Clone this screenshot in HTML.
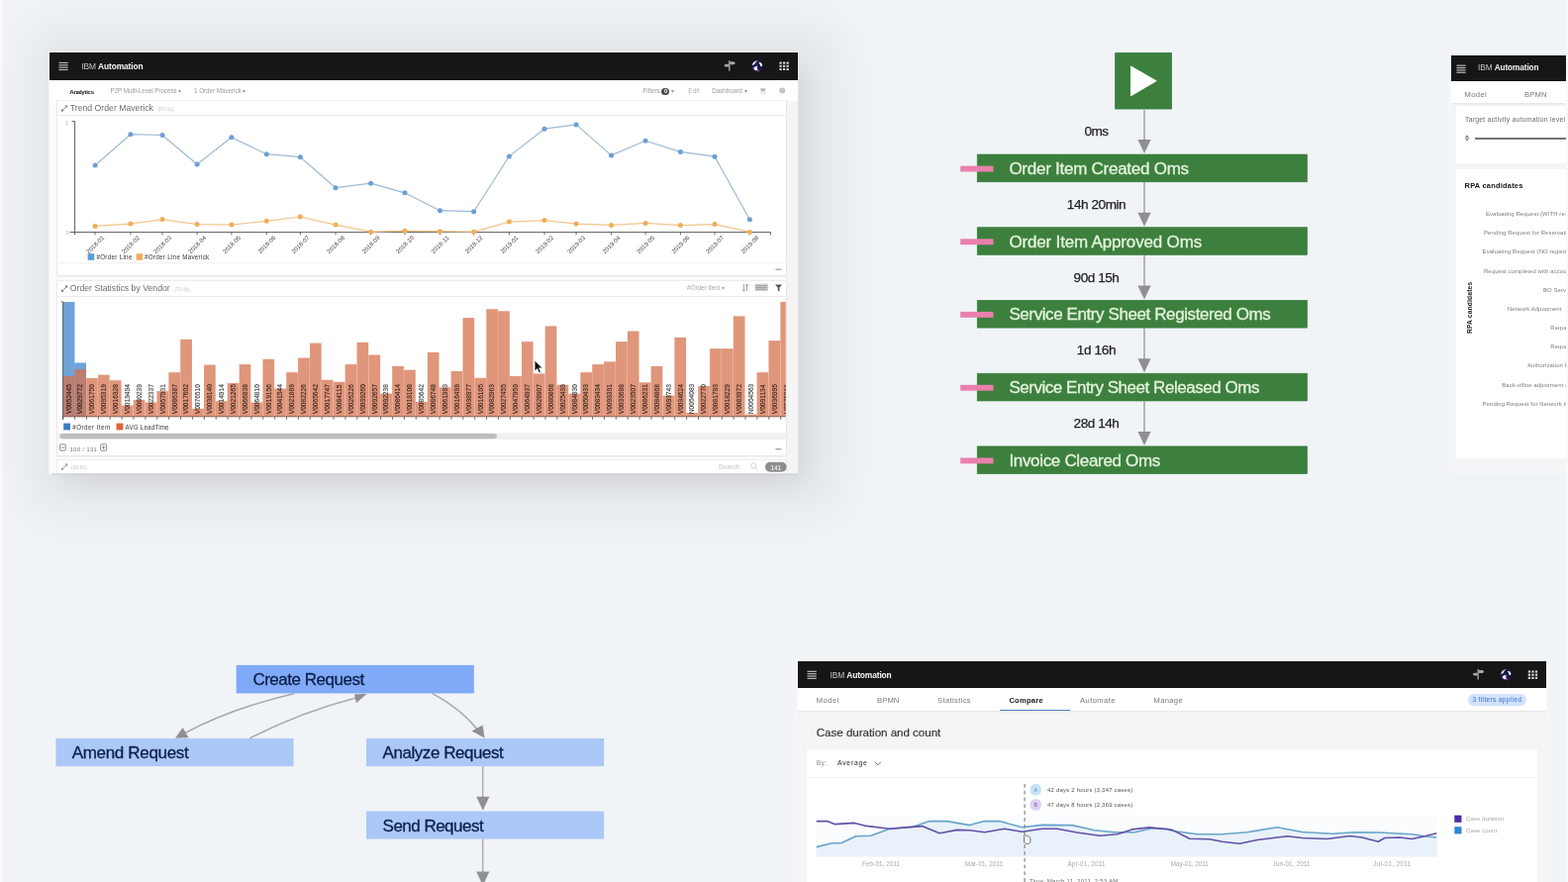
<!DOCTYPE html>
<html lang="en"><head><meta charset="utf-8"><title>IBM Automation</title>
<style>
html,body{margin:0;padding:0}
body{width:1584px;height:891px;overflow:hidden;position:relative;background:#f0f4f7;font-family:"Liberation Sans",sans-serif;color:#161616}
.abs{position:absolute}
.t{position:absolute;white-space:nowrap;line-height:1;}
.panel{position:absolute;background:#f4f4f4;overflow:hidden}
.hdr{position:absolute;left:0;top:0;right:0;background:#161616}
.card{position:absolute;background:#fff}
svg{position:absolute;left:0;top:0;overflow:visible}
.soft{filter:blur(0.45px)}
</style></head>
<body>
<div class="abs" style="left:0;top:0;width:1584px;height:891px;background:#f0f4f7"></div>
<div class="panel" style="left:50px;top:53px;width:756px;height:424.5px;background:#fbfbfb;overflow:visible;box-shadow:0 0 0 1.2px rgba(255,255,255,0.5),1.2px 1.5px 1.5px -0.5px rgba(0,0,0,0.26),10px 14px 28px -8px rgba(20,14,20,0.09),10px 6px 50px 30px rgba(24,14,22,0.062)"><div class="abs soft" style="left:0;top:0;width:756px;height:424.5px;overflow:hidden"><div class="hdr" style="height:27.5px"><svg width="756" height="27.5" viewBox="0 0 756 27.5"><rect x="9.5" y="9.85" width="9.2" height="1.2" fill="#b8b8b8"/><rect x="9.5" y="12.20" width="9.2" height="1.2" fill="#b8b8b8"/><rect x="9.5" y="14.55" width="9.2" height="1.2" fill="#b8b8b8"/><rect x="9.5" y="16.90" width="9.2" height="1.2" fill="#b8b8b8"/><g fill="#a8a8a8" stroke="none"><rect x="686.15" y="8.15" width="1.3" height="10.5"/><path d="M687.20 9.15 h4.2 l1.5 1.5 l-1.5 1.5 h-4.2 z"/><path d="M686.40 11.75 h-3.6 l-1.5 1.4 l1.5 1.4 h3.6 z"/></g><circle cx="714.9" cy="13.6" r="5.9" fill="#1d1a4a"/><path d="M709.7 13.3 c0.5 -3.4 3.2 -5.2 6 -4.6 c-2 0.6 -3 1.8 -3.4 3.4 c-0.8 0.2 -1.8 0.6 -2.6 1.2 z" fill="#f1eafc"/><path d="M716.3 10.2 c1.6 -0.6 3.2 0.2 3.6 2.2 c0.2 1.4 -0.6 2 -1.6 1.6 c-0.2 -1.6 -1 -2.8 -2 -3.8 z" fill="#ffffff"/><path d="M711.1 15.9 c1.2 -1.6 2.6 -2.4 4.2 -2.2 c-0.6 1.4 -0.4 2.8 0.6 4 c-1.6 1 -3.4 0.8 -4.8 -1.8 z" fill="#efe6ff"/><path d="M714.5 17.4 l2.6 1.8" stroke="#c94f9a" stroke-width="0.9"/><rect x="737.40" y="9.55" width="2.3" height="2.1" fill="#d6d6d6"/><rect x="740.95" y="9.55" width="2.3" height="2.1" fill="#d6d6d6"/><rect x="744.50" y="9.55" width="2.3" height="2.1" fill="#d6d6d6"/><rect x="737.40" y="12.75" width="2.3" height="2.1" fill="#d6d6d6"/><rect x="740.95" y="12.75" width="2.3" height="2.1" fill="#d6d6d6"/><rect x="744.50" y="12.75" width="2.3" height="2.1" fill="#d6d6d6"/><rect x="737.40" y="15.95" width="2.3" height="2.1" fill="#d6d6d6"/><rect x="740.95" y="15.95" width="2.3" height="2.1" fill="#d6d6d6"/><rect x="744.50" y="15.95" width="2.3" height="2.1" fill="#d6d6d6"/></svg><div class="t" style="left:32.4px;top:14.2px;font-size:8.40px;color:#f4f4f4;font-weight:normal;height:10.08px;line-height:10.08px;margin-top:-5.04px;letter-spacing:-0.125px;"><span style="font-weight:normal;color:#c6c6c6">IBM</span> <b>Automation</b></div>
</div><div class="abs" style="left:0;top:27.5px;width:756px;height:21.5px;background:#fff"></div><div class="t" style="left:20.3px;top:39.6px;font-size:6.20px;color:#161616;font-weight:bold;height:7.44px;line-height:7.44px;margin-top:-3.72px;letter-spacing:-0.335px;">Analytics</div>
<div class="t" style="left:61.5px;top:38.9px;font-size:6.30px;color:#9a9a9a;font-weight:normal;height:7.56px;line-height:7.56px;margin-top:-3.78px;letter-spacing:-0.061px;">P2P Multi-Level Process &#9662;</div>
<div class="t" style="left:146.0px;top:38.9px;font-size:6.30px;color:#9a9a9a;font-weight:normal;height:7.56px;line-height:7.56px;margin-top:-3.78px;letter-spacing:-0.041px;">1 Order Maverick &#9662;</div>
<div class="t" style="left:599.5px;top:38.8px;font-size:6.30px;color:#9a9a9a;font-weight:normal;height:7.56px;line-height:7.56px;margin-top:-3.78px;">Filters <span style="display:inline-block;background:#525252;color:#fff;border-radius:4px;width:8px;height:7.6px;line-height:7.6px;text-align:center;font-size:5.5px;font-weight:bold;vertical-align:0.5px">0</span> &#9662;</div>
<div class="t" style="left:645.3px;top:38.8px;font-size:6.30px;color:#b0b0b0;font-weight:normal;height:7.56px;line-height:7.56px;margin-top:-3.78px;letter-spacing:0.185px;">Edit</div>
<div class="t" style="left:669.2px;top:38.8px;font-size:6.30px;color:#9a9a9a;font-weight:normal;height:7.56px;line-height:7.56px;margin-top:-3.78px;letter-spacing:-0.015px;">Dashboard &#9662;</div>
<svg width="756" height="424.5" viewBox="0 0 756 424.5"><g fill="#b8b8b8"><path d="M718.0 36.3 h5.5 l-0.9 3.2 h-3.8 z"/><circle cx="719.6" cy="41.3" r="0.7"/><circle cx="722.4" cy="41.3" r="0.7"/><circle cx="740.2" cy="38.5" r="3" fill="#c4c4c4"/></g></svg><div class="abs" style="left:744px;top:49px;width:12.5px;height:400px;background:#f5f5f5"></div><div class="card" style="left:8.2px;top:48.8px;width:735.6px;height:175.8px;box-shadow:0 0 0 0.6px #e3e3e3,0 1px 2px rgba(0,0,0,0.10)"></div><div class="abs" style="left:8.2px;top:63.4px;width:735.6px;height:1px;background:#ececec"></div><svg width="756" height="424.5" viewBox="0 0 756 424.5"><g stroke="#6f6f6f" stroke-width="0.9" fill="#6f6f6f"><path d="M12.6 59.0 l5 -5"/><path d="M18.2 53.4 h-2.6 l2.6 2.6 z" stroke="none"/><path d="M12.0 59.6 h2.6 l-2.6 -2.6 z" stroke="none"/></g></svg><div class="t" style="left:20.8px;top:56.2px;font-size:8.70px;color:#6f6f6f;font-weight:normal;height:10.44px;line-height:10.44px;margin-top:-5.22px;">Trend Order Maverick <span style="font-size:4.6px;color:#c6c6c6;margin-left:2px">(PO 1c)</span></div>
<svg width="756" height="424.5" viewBox="50 53 756 424.5" font-family="Liberation Sans, sans-serif"><path d="M72.5 122.6 H75.6 V237.2 M70.5 234.6 H778.6 V237.4" fill="none" stroke="#4d4d4d" stroke-width="0.9"/><text x="69" y="125.5" font-size="4.5" fill="#a8a8a8" text-anchor="end">1</text><text x="69.5" y="237" font-size="4.5" fill="#a8a8a8" text-anchor="end">0</text><path d="M96.1 234.6 v2.8" stroke="#4d4d4d" stroke-width="0.8"/><text transform="translate(97.7 248.6) rotate(-45)" font-size="6.1" fill="#3d3d3d" text-anchor="middle" textLength="22.6" lengthAdjust="spacing">2018-01</text><path d="M131.9 234.6 v2.8" stroke="#4d4d4d" stroke-width="0.8"/><text transform="translate(133.5 248.6) rotate(-45)" font-size="6.1" fill="#3d3d3d" text-anchor="middle" textLength="22.6" lengthAdjust="spacing">2018-02</text><path d="M164.0 234.6 v2.8" stroke="#4d4d4d" stroke-width="0.8"/><text transform="translate(165.6 248.6) rotate(-45)" font-size="6.1" fill="#3d3d3d" text-anchor="middle" textLength="22.6" lengthAdjust="spacing">2018-03</text><path d="M199.1 234.6 v2.8" stroke="#4d4d4d" stroke-width="0.8"/><text transform="translate(200.7 248.6) rotate(-45)" font-size="6.1" fill="#3d3d3d" text-anchor="middle" textLength="22.6" lengthAdjust="spacing">2018-04</text><path d="M233.9 234.6 v2.8" stroke="#4d4d4d" stroke-width="0.8"/><text transform="translate(235.5 248.6) rotate(-45)" font-size="6.1" fill="#3d3d3d" text-anchor="middle" textLength="22.6" lengthAdjust="spacing">2018-05</text><path d="M269.3 234.6 v2.8" stroke="#4d4d4d" stroke-width="0.8"/><text transform="translate(270.9 248.6) rotate(-45)" font-size="6.1" fill="#3d3d3d" text-anchor="middle" textLength="22.6" lengthAdjust="spacing">2018-06</text><path d="M303.4 234.6 v2.8" stroke="#4d4d4d" stroke-width="0.8"/><text transform="translate(305.0 248.6) rotate(-45)" font-size="6.1" fill="#3d3d3d" text-anchor="middle" textLength="22.6" lengthAdjust="spacing">2018-07</text><path d="M339.0 234.6 v2.8" stroke="#4d4d4d" stroke-width="0.8"/><text transform="translate(340.6 248.6) rotate(-45)" font-size="6.1" fill="#3d3d3d" text-anchor="middle" textLength="22.6" lengthAdjust="spacing">2018-08</text><path d="M374.6 234.6 v2.8" stroke="#4d4d4d" stroke-width="0.8"/><text transform="translate(376.2 248.6) rotate(-45)" font-size="6.1" fill="#3d3d3d" text-anchor="middle" textLength="22.6" lengthAdjust="spacing">2018-09</text><path d="M408.9 234.6 v2.8" stroke="#4d4d4d" stroke-width="0.8"/><text transform="translate(410.5 248.6) rotate(-45)" font-size="6.1" fill="#3d3d3d" text-anchor="middle" textLength="22.6" lengthAdjust="spacing">2018-10</text><path d="M444.5 234.6 v2.8" stroke="#4d4d4d" stroke-width="0.8"/><text transform="translate(446.1 248.6) rotate(-45)" font-size="6.1" fill="#3d3d3d" text-anchor="middle" textLength="22.6" lengthAdjust="spacing">2018-11</text><path d="M478.6 234.6 v2.8" stroke="#4d4d4d" stroke-width="0.8"/><text transform="translate(480.2 248.6) rotate(-45)" font-size="6.1" fill="#3d3d3d" text-anchor="middle" textLength="22.6" lengthAdjust="spacing">2018-12</text><path d="M514.4 234.6 v2.8" stroke="#4d4d4d" stroke-width="0.8"/><text transform="translate(516.0 248.6) rotate(-45)" font-size="6.1" fill="#3d3d3d" text-anchor="middle" textLength="22.6" lengthAdjust="spacing">2019-01</text><path d="M550.0 234.6 v2.8" stroke="#4d4d4d" stroke-width="0.8"/><text transform="translate(551.6 248.6) rotate(-45)" font-size="6.1" fill="#3d3d3d" text-anchor="middle" textLength="22.6" lengthAdjust="spacing">2019-02</text><path d="M582.1 234.6 v2.8" stroke="#4d4d4d" stroke-width="0.8"/><text transform="translate(583.7 248.6) rotate(-45)" font-size="6.1" fill="#3d3d3d" text-anchor="middle" textLength="22.6" lengthAdjust="spacing">2019-03</text><path d="M617.5 234.6 v2.8" stroke="#4d4d4d" stroke-width="0.8"/><text transform="translate(619.1 248.6) rotate(-45)" font-size="6.1" fill="#3d3d3d" text-anchor="middle" textLength="22.6" lengthAdjust="spacing">2019-04</text><path d="M652.1 234.6 v2.8" stroke="#4d4d4d" stroke-width="0.8"/><text transform="translate(653.7 248.6) rotate(-45)" font-size="6.1" fill="#3d3d3d" text-anchor="middle" textLength="22.6" lengthAdjust="spacing">2019-05</text><path d="M687.4 234.6 v2.8" stroke="#4d4d4d" stroke-width="0.8"/><text transform="translate(689.0 248.6) rotate(-45)" font-size="6.1" fill="#3d3d3d" text-anchor="middle" textLength="22.6" lengthAdjust="spacing">2019-06</text><path d="M722.0 234.6 v2.8" stroke="#4d4d4d" stroke-width="0.8"/><text transform="translate(723.6 248.6) rotate(-45)" font-size="6.1" fill="#3d3d3d" text-anchor="middle" textLength="22.6" lengthAdjust="spacing">2019-07</text><path d="M757.4 234.6 v2.8" stroke="#4d4d4d" stroke-width="0.8"/><text transform="translate(759.0 248.6) rotate(-45)" font-size="6.1" fill="#3d3d3d" text-anchor="middle" textLength="22.6" lengthAdjust="spacing">2019-08</text><polyline points="96.1,228.4 131.9,226.1 164.0,221.6 199.1,226.6 233.9,227.1 269.3,223.3 303.4,219.0 339.0,227.1 374.6,234.2 408.9,233.2 444.5,233.7 478.6,234.2 514.4,224.1 550.0,222.6 582.1,226.1 617.5,227.4 652.1,225.4 687.4,227.6 722.0,226.6 757.4,234.4" fill="none" stroke="#f2c58e" stroke-width="1.2" stroke-linejoin="round"/><circle cx="96.1" cy="228.4" r="2.5" fill="#f0ad58"/><circle cx="131.9" cy="226.1" r="2.5" fill="#f0ad58"/><circle cx="164.0" cy="221.6" r="2.5" fill="#f0ad58"/><circle cx="199.1" cy="226.6" r="2.5" fill="#f0ad58"/><circle cx="233.9" cy="227.1" r="2.5" fill="#f0ad58"/><circle cx="269.3" cy="223.3" r="2.5" fill="#f0ad58"/><circle cx="303.4" cy="219.0" r="2.5" fill="#f0ad58"/><circle cx="339.0" cy="227.1" r="2.5" fill="#f0ad58"/><circle cx="374.6" cy="234.2" r="2.5" fill="#f0ad58"/><circle cx="408.9" cy="233.2" r="2.5" fill="#f0ad58"/><circle cx="444.5" cy="233.7" r="2.5" fill="#f0ad58"/><circle cx="478.6" cy="234.2" r="2.5" fill="#f0ad58"/><circle cx="514.4" cy="224.1" r="2.5" fill="#f0ad58"/><circle cx="550.0" cy="222.6" r="2.5" fill="#f0ad58"/><circle cx="582.1" cy="226.1" r="2.5" fill="#f0ad58"/><circle cx="617.5" cy="227.4" r="2.5" fill="#f0ad58"/><circle cx="652.1" cy="225.4" r="2.5" fill="#f0ad58"/><circle cx="687.4" cy="227.6" r="2.5" fill="#f0ad58"/><circle cx="722.0" cy="226.6" r="2.5" fill="#f0ad58"/><circle cx="757.4" cy="234.4" r="2.5" fill="#f0ad58"/><polyline points="96.1,167.0 131.9,135.7 164.0,136.5 199.1,166.0 233.9,138.7 269.3,155.7 303.4,158.7 339.0,189.7 374.6,185.2 408.9,194.8 444.5,212.7 478.6,213.7 514.4,157.9 550.0,130.2 582.1,125.9 617.5,156.9 652.1,142.3 687.4,153.4 722.0,158.2 757.4,221.8" fill="none" stroke="#9dbad3" stroke-width="1.2" stroke-linejoin="round"/><circle cx="96.1" cy="167.0" r="2.5" fill="#6d9fd3"/><circle cx="131.9" cy="135.7" r="2.5" fill="#6d9fd3"/><circle cx="164.0" cy="136.5" r="2.5" fill="#6d9fd3"/><circle cx="199.1" cy="166.0" r="2.5" fill="#6d9fd3"/><circle cx="233.9" cy="138.7" r="2.5" fill="#6d9fd3"/><circle cx="269.3" cy="155.7" r="2.5" fill="#6d9fd3"/><circle cx="303.4" cy="158.7" r="2.5" fill="#6d9fd3"/><circle cx="339.0" cy="189.7" r="2.5" fill="#6d9fd3"/><circle cx="374.6" cy="185.2" r="2.5" fill="#6d9fd3"/><circle cx="408.9" cy="194.8" r="2.5" fill="#6d9fd3"/><circle cx="444.5" cy="212.7" r="2.5" fill="#6d9fd3"/><circle cx="478.6" cy="213.7" r="2.5" fill="#6d9fd3"/><circle cx="514.4" cy="157.9" r="2.5" fill="#6d9fd3"/><circle cx="550.0" cy="130.2" r="2.5" fill="#6d9fd3"/><circle cx="582.1" cy="125.9" r="2.5" fill="#6d9fd3"/><circle cx="617.5" cy="156.9" r="2.5" fill="#6d9fd3"/><circle cx="652.1" cy="142.3" r="2.5" fill="#6d9fd3"/><circle cx="687.4" cy="153.4" r="2.5" fill="#6d9fd3"/><circle cx="722.0" cy="158.2" r="2.5" fill="#6d9fd3"/><circle cx="757.4" cy="221.8" r="2.5" fill="#6d9fd3"/><rect x="88.6" y="256.2" width="6.6" height="6.6" fill="#5b9bd5"/><text x="97.4" y="262" font-size="6.3" fill="#393939" textLength="36" lengthAdjust="spacing">#Order Line</text><rect x="137.6" y="256.2" width="6.6" height="6.6" fill="#f0ad58"/><text x="146" y="262" font-size="6.3" fill="#393939" textLength="65.2" lengthAdjust="spacing">#Order Line Maverick</text><rect x="58.4" y="265.4" width="735.2" height="0.8" fill="#ebebeb"/><rect x="783.5" y="271.6" width="6" height="1.1" fill="#8d8d8d"/></svg><div class="card" style="left:8.2px;top:231.0px;width:735.6px;height:175.5px;box-shadow:0 0 0 0.6px #e3e3e3,0 1px 2px rgba(0,0,0,0.10)"></div><div class="abs" style="left:8.2px;top:245.6px;width:735.6px;height:1px;background:#ececec"></div><svg width="756" height="424.5" viewBox="0 0 756 424.5"><g stroke="#6f6f6f" stroke-width="0.9" fill="#6f6f6f"><path d="M12.6 241.2 l5 -5"/><path d="M18.2 235.6 h-2.6 l2.6 2.6 z" stroke="none"/><path d="M12.0 241.8 h2.6 l-2.6 -2.6 z" stroke="none"/></g></svg><div class="t" style="left:20.8px;top:238.4px;font-size:8.70px;color:#6f6f6f;font-weight:normal;height:10.44px;line-height:10.44px;margin-top:-5.22px;">Order Statistics by Vendor <span style="font-size:4.6px;color:#c6c6c6;margin-left:2px">(TO 6c)</span></div>
<svg width="756" height="424.5" viewBox="50 53 756 424.5" font-family="Liberation Sans, sans-serif"><clipPath id="bc"><rect x="58" y="300" width="735.8" height="130"/></clipPath><g clip-path="url(#bc)"><rect x="63.30" y="305" width="12.19" height="115.60" fill="#6fa4d9"/><rect x="75.19" y="366.5" width="11.88" height="54.10" fill="#6fa4d9"/><rect x="63.40" y="379.95" width="11.69" height="40.65" fill="#d5714d" fill-opacity="0.74"/><rect x="75.28" y="373.13" width="11.69" height="47.47" fill="#d5714d" fill-opacity="0.74"/><rect x="87.17" y="381.97" width="11.69" height="38.63" fill="#d5714d" fill-opacity="0.74"/><rect x="99.05" y="378.69" width="11.69" height="41.91" fill="#d5714d" fill-opacity="0.74"/><rect x="110.94" y="384.24" width="11.69" height="36.36" fill="#d5714d" fill-opacity="0.74"/><rect x="122.82" y="409.49" width="11.69" height="11.11" fill="#d5714d" fill-opacity="0.74"/><rect x="134.71" y="403.94" width="11.69" height="16.66" fill="#d5714d" fill-opacity="0.74"/><rect x="146.59" y="406.46" width="11.69" height="14.14" fill="#d5714d" fill-opacity="0.74"/><rect x="158.48" y="395.10" width="11.69" height="25.50" fill="#d5714d" fill-opacity="0.74"/><rect x="170.36" y="376.16" width="11.69" height="44.44" fill="#d5714d" fill-opacity="0.74"/><rect x="182.25" y="342.83" width="11.69" height="77.77" fill="#d5714d" fill-opacity="0.74"/><rect x="194.13" y="412.78" width="11.69" height="7.82" fill="#d5714d" fill-opacity="0.74"/><rect x="206.02" y="368.59" width="11.69" height="52.01" fill="#d5714d" fill-opacity="0.74"/><rect x="217.91" y="405.20" width="11.69" height="15.40" fill="#d5714d" fill-opacity="0.74"/><rect x="229.79" y="387.02" width="11.69" height="33.58" fill="#d5714d" fill-opacity="0.74"/><rect x="241.67" y="368.08" width="11.69" height="52.52" fill="#d5714d" fill-opacity="0.74"/><rect x="253.56" y="406.46" width="11.69" height="14.14" fill="#d5714d" fill-opacity="0.74"/><rect x="265.44" y="362.78" width="11.69" height="57.82" fill="#d5714d" fill-opacity="0.74"/><rect x="277.33" y="392.58" width="11.69" height="28.02" fill="#d5714d" fill-opacity="0.74"/><rect x="289.22" y="376.16" width="11.69" height="44.44" fill="#d5714d" fill-opacity="0.74"/><rect x="301.10" y="361.52" width="11.69" height="59.08" fill="#d5714d" fill-opacity="0.74"/><rect x="312.99" y="346.62" width="11.69" height="73.98" fill="#d5714d" fill-opacity="0.74"/><rect x="324.87" y="383.74" width="11.69" height="36.86" fill="#d5714d" fill-opacity="0.74"/><rect x="336.76" y="385.76" width="11.69" height="34.84" fill="#d5714d" fill-opacity="0.74"/><rect x="348.64" y="368.08" width="11.69" height="52.52" fill="#d5714d" fill-opacity="0.74"/><rect x="360.53" y="345.86" width="11.69" height="74.74" fill="#d5714d" fill-opacity="0.74"/><rect x="372.41" y="358.48" width="11.69" height="62.12" fill="#d5714d" fill-opacity="0.74"/><rect x="384.30" y="397.63" width="11.69" height="22.97" fill="#d5714d" fill-opacity="0.74"/><rect x="396.18" y="369.85" width="11.69" height="50.75" fill="#d5714d" fill-opacity="0.74"/><rect x="408.07" y="373.64" width="11.69" height="46.96" fill="#d5714d" fill-opacity="0.74"/><rect x="419.95" y="405.96" width="11.69" height="14.64" fill="#d5714d" fill-opacity="0.74"/><rect x="431.84" y="355.96" width="11.69" height="64.64" fill="#d5714d" fill-opacity="0.74"/><rect x="443.72" y="391.31" width="11.69" height="29.29" fill="#d5714d" fill-opacity="0.74"/><rect x="455.61" y="374.90" width="11.69" height="45.70" fill="#d5714d" fill-opacity="0.74"/><rect x="467.49" y="321.11" width="11.69" height="99.49" fill="#d5714d" fill-opacity="0.74"/><rect x="479.38" y="381.72" width="11.69" height="38.88" fill="#d5714d" fill-opacity="0.74"/><rect x="491.26" y="312.27" width="11.69" height="108.33" fill="#d5714d" fill-opacity="0.74"/><rect x="503.15" y="314.29" width="11.69" height="106.31" fill="#d5714d" fill-opacity="0.74"/><rect x="515.03" y="379.95" width="11.69" height="40.65" fill="#d5714d" fill-opacity="0.74"/><rect x="526.91" y="345.10" width="11.69" height="75.50" fill="#d5714d" fill-opacity="0.74"/><rect x="538.80" y="377.42" width="11.69" height="43.18" fill="#d5714d" fill-opacity="0.74"/><rect x="550.68" y="329.44" width="11.69" height="91.16" fill="#d5714d" fill-opacity="0.74"/><rect x="562.57" y="388.79" width="11.69" height="31.81" fill="#d5714d" fill-opacity="0.74"/><rect x="574.46" y="397.63" width="11.69" height="22.97" fill="#d5714d" fill-opacity="0.74"/><rect x="586.34" y="376.16" width="11.69" height="44.44" fill="#d5714d" fill-opacity="0.74"/><rect x="598.23" y="368.08" width="11.69" height="52.52" fill="#d5714d" fill-opacity="0.74"/><rect x="610.11" y="365.30" width="11.69" height="55.30" fill="#d5714d" fill-opacity="0.74"/><rect x="622.00" y="345.10" width="11.69" height="75.50" fill="#d5714d" fill-opacity="0.74"/><rect x="633.88" y="334.49" width="11.69" height="86.11" fill="#d5714d" fill-opacity="0.74"/><rect x="645.76" y="386.26" width="11.69" height="34.34" fill="#d5714d" fill-opacity="0.74"/><rect x="657.65" y="369.85" width="11.69" height="50.75" fill="#d5714d" fill-opacity="0.74"/><rect x="669.53" y="399.65" width="11.69" height="20.95" fill="#d5714d" fill-opacity="0.74"/><rect x="681.42" y="340.81" width="11.69" height="79.79" fill="#d5714d" fill-opacity="0.74"/><rect x="693.30" y="417.07" width="11.69" height="3.53" fill="#d5714d" fill-opacity="0.74"/><rect x="705.19" y="390.05" width="11.69" height="30.55" fill="#d5714d" fill-opacity="0.74"/><rect x="717.07" y="352.17" width="11.69" height="68.43" fill="#d5714d" fill-opacity="0.74"/><rect x="728.96" y="352.17" width="11.69" height="68.43" fill="#d5714d" fill-opacity="0.74"/><rect x="740.84" y="319.34" width="11.69" height="101.26" fill="#d5714d" fill-opacity="0.74"/><rect x="752.73" y="418.59" width="11.69" height="2.01" fill="#d5714d" fill-opacity="0.74"/><rect x="764.62" y="376.16" width="11.69" height="44.44" fill="#d5714d" fill-opacity="0.74"/><rect x="776.50" y="344.09" width="11.69" height="76.51" fill="#d5714d" fill-opacity="0.74"/><rect x="788.38" y="304.95" width="11.69" height="115.65" fill="#d5714d" fill-opacity="0.74"/><text transform="translate(71.54 418.2) rotate(-90)" font-size="6.6" fill="#3c3c3c" stroke="#3c3c3c" stroke-width="0.12" style="mix-blend-mode:multiply">V0052445</text><text transform="translate(83.43 418.2) rotate(-90)" font-size="6.6" fill="#3c3c3c" stroke="#3c3c3c" stroke-width="0.12" style="mix-blend-mode:multiply">V0029772</text><text transform="translate(95.31 418.2) rotate(-90)" font-size="6.6" fill="#3c3c3c" stroke="#3c3c3c" stroke-width="0.12" style="mix-blend-mode:multiply">V0061750</text><text transform="translate(107.20 418.2) rotate(-90)" font-size="6.6" fill="#3c3c3c" stroke="#3c3c3c" stroke-width="0.12" style="mix-blend-mode:multiply">V0095319</text><text transform="translate(119.08 418.2) rotate(-90)" font-size="6.6" fill="#3c3c3c" stroke="#3c3c3c" stroke-width="0.12" style="mix-blend-mode:multiply">V0016328</text><text transform="translate(130.97 418.2) rotate(-90)" font-size="6.6" fill="#3c3c3c" stroke="#3c3c3c" stroke-width="0.12" style="mix-blend-mode:multiply">V0019494</text><text transform="translate(142.85 418.2) rotate(-90)" font-size="6.6" fill="#3c3c3c" stroke="#3c3c3c" stroke-width="0.12" style="mix-blend-mode:multiply">V0080239</text><text transform="translate(154.74 418.2) rotate(-90)" font-size="6.6" fill="#3c3c3c" stroke="#3c3c3c" stroke-width="0.12" style="mix-blend-mode:multiply">V0022337</text><text transform="translate(166.62 418.2) rotate(-90)" font-size="6.6" fill="#3c3c3c" stroke="#3c3c3c" stroke-width="0.12" style="mix-blend-mode:multiply">V0057931</text><text transform="translate(178.51 418.2) rotate(-90)" font-size="6.6" fill="#3c3c3c" stroke="#3c3c3c" stroke-width="0.12" style="mix-blend-mode:multiply">V0086387</text><text transform="translate(190.39 418.2) rotate(-90)" font-size="6.6" fill="#3c3c3c" stroke="#3c3c3c" stroke-width="0.12" style="mix-blend-mode:multiply">V0017602</text><text transform="translate(202.28 418.2) rotate(-90)" font-size="6.6" fill="#3c3c3c" stroke="#3c3c3c" stroke-width="0.12" style="mix-blend-mode:multiply">V0076510</text><text transform="translate(214.16 418.2) rotate(-90)" font-size="6.6" fill="#3c3c3c" stroke="#3c3c3c" stroke-width="0.12" style="mix-blend-mode:multiply">V0038140</text><text transform="translate(226.05 418.2) rotate(-90)" font-size="6.6" fill="#3c3c3c" stroke="#3c3c3c" stroke-width="0.12" style="mix-blend-mode:multiply">V0014914</text><text transform="translate(237.93 418.2) rotate(-90)" font-size="6.6" fill="#3c3c3c" stroke="#3c3c3c" stroke-width="0.12" style="mix-blend-mode:multiply">V0021265</text><text transform="translate(249.82 418.2) rotate(-90)" font-size="6.6" fill="#3c3c3c" stroke="#3c3c3c" stroke-width="0.12" style="mix-blend-mode:multiply">V0066838</text><text transform="translate(261.70 418.2) rotate(-90)" font-size="6.6" fill="#3c3c3c" stroke="#3c3c3c" stroke-width="0.12" style="mix-blend-mode:multiply">V0064810</text><text transform="translate(273.59 418.2) rotate(-90)" font-size="6.6" fill="#3c3c3c" stroke="#3c3c3c" stroke-width="0.12" style="mix-blend-mode:multiply">V0019156</text><text transform="translate(285.47 418.2) rotate(-90)" font-size="6.6" fill="#3c3c3c" stroke="#3c3c3c" stroke-width="0.12" style="mix-blend-mode:multiply">V0041544</text><text transform="translate(297.36 418.2) rotate(-90)" font-size="6.6" fill="#3c3c3c" stroke="#3c3c3c" stroke-width="0.12" style="mix-blend-mode:multiply">V0021889</text><text transform="translate(309.24 418.2) rotate(-90)" font-size="6.6" fill="#3c3c3c" stroke="#3c3c3c" stroke-width="0.12" style="mix-blend-mode:multiply">V0082226</text><text transform="translate(321.13 418.2) rotate(-90)" font-size="6.6" fill="#3c3c3c" stroke="#3c3c3c" stroke-width="0.12" style="mix-blend-mode:multiply">V0065642</text><text transform="translate(333.01 418.2) rotate(-90)" font-size="6.6" fill="#3c3c3c" stroke="#3c3c3c" stroke-width="0.12" style="mix-blend-mode:multiply">V0017747</text><text transform="translate(344.90 418.2) rotate(-90)" font-size="6.6" fill="#3c3c3c" stroke="#3c3c3c" stroke-width="0.12" style="mix-blend-mode:multiply">V0084115</text><text transform="translate(356.78 418.2) rotate(-90)" font-size="6.6" fill="#3c3c3c" stroke="#3c3c3c" stroke-width="0.12" style="mix-blend-mode:multiply">V0026226</text><text transform="translate(368.67 418.2) rotate(-90)" font-size="6.6" fill="#3c3c3c" stroke="#3c3c3c" stroke-width="0.12" style="mix-blend-mode:multiply">V0039260</text><text transform="translate(380.55 418.2) rotate(-90)" font-size="6.6" fill="#3c3c3c" stroke="#3c3c3c" stroke-width="0.12" style="mix-blend-mode:multiply">V0092657</text><text transform="translate(392.44 418.2) rotate(-90)" font-size="6.6" fill="#3c3c3c" stroke="#3c3c3c" stroke-width="0.12" style="mix-blend-mode:multiply">V0092238</text><text transform="translate(404.32 418.2) rotate(-90)" font-size="6.6" fill="#3c3c3c" stroke="#3c3c3c" stroke-width="0.12" style="mix-blend-mode:multiply">V0086414</text><text transform="translate(416.21 418.2) rotate(-90)" font-size="6.6" fill="#3c3c3c" stroke="#3c3c3c" stroke-width="0.12" style="mix-blend-mode:multiply">V0018108</text><text transform="translate(428.09 418.2) rotate(-90)" font-size="6.6" fill="#3c3c3c" stroke="#3c3c3c" stroke-width="0.12" style="mix-blend-mode:multiply">V0085642</text><text transform="translate(439.98 418.2) rotate(-90)" font-size="6.6" fill="#3c3c3c" stroke="#3c3c3c" stroke-width="0.12" style="mix-blend-mode:multiply">V0086748</text><text transform="translate(451.86 418.2) rotate(-90)" font-size="6.6" fill="#3c3c3c" stroke="#3c3c3c" stroke-width="0.12" style="mix-blend-mode:multiply">V0061993</text><text transform="translate(463.75 418.2) rotate(-90)" font-size="6.6" fill="#3c3c3c" stroke="#3c3c3c" stroke-width="0.12" style="mix-blend-mode:multiply">V0016499</text><text transform="translate(475.63 418.2) rotate(-90)" font-size="6.6" fill="#3c3c3c" stroke="#3c3c3c" stroke-width="0.12" style="mix-blend-mode:multiply">V0038977</text><text transform="translate(487.52 418.2) rotate(-90)" font-size="6.6" fill="#3c3c3c" stroke="#3c3c3c" stroke-width="0.12" style="mix-blend-mode:multiply">V0016105</text><text transform="translate(499.40 418.2) rotate(-90)" font-size="6.6" fill="#3c3c3c" stroke="#3c3c3c" stroke-width="0.12" style="mix-blend-mode:multiply">V0082963</text><text transform="translate(511.29 418.2) rotate(-90)" font-size="6.6" fill="#3c3c3c" stroke="#3c3c3c" stroke-width="0.12" style="mix-blend-mode:multiply">V0027455</text><text transform="translate(523.17 418.2) rotate(-90)" font-size="6.6" fill="#3c3c3c" stroke="#3c3c3c" stroke-width="0.12" style="mix-blend-mode:multiply">V0047959</text><text transform="translate(535.06 418.2) rotate(-90)" font-size="6.6" fill="#3c3c3c" stroke="#3c3c3c" stroke-width="0.12" style="mix-blend-mode:multiply">V0064937</text><text transform="translate(546.94 418.2) rotate(-90)" font-size="6.6" fill="#3c3c3c" stroke="#3c3c3c" stroke-width="0.12" style="mix-blend-mode:multiply">V0028907</text><text transform="translate(558.83 418.2) rotate(-90)" font-size="6.6" fill="#3c3c3c" stroke="#3c3c3c" stroke-width="0.12" style="mix-blend-mode:multiply">V0080868</text><text transform="translate(570.71 418.2) rotate(-90)" font-size="6.6" fill="#3c3c3c" stroke="#3c3c3c" stroke-width="0.12" style="mix-blend-mode:multiply">V0025439</text><text transform="translate(582.60 418.2) rotate(-90)" font-size="6.6" fill="#3c3c3c" stroke="#3c3c3c" stroke-width="0.12" style="mix-blend-mode:multiply">V0084830</text><text transform="translate(594.48 418.2) rotate(-90)" font-size="6.6" fill="#3c3c3c" stroke="#3c3c3c" stroke-width="0.12" style="mix-blend-mode:multiply">V0050433</text><text transform="translate(606.37 418.2) rotate(-90)" font-size="6.6" fill="#3c3c3c" stroke="#3c3c3c" stroke-width="0.12" style="mix-blend-mode:multiply">V0083434</text><text transform="translate(618.25 418.2) rotate(-90)" font-size="6.6" fill="#3c3c3c" stroke="#3c3c3c" stroke-width="0.12" style="mix-blend-mode:multiply">V0099391</text><text transform="translate(630.14 418.2) rotate(-90)" font-size="6.6" fill="#3c3c3c" stroke="#3c3c3c" stroke-width="0.12" style="mix-blend-mode:multiply">V0033688</text><text transform="translate(642.02 418.2) rotate(-90)" font-size="6.6" fill="#3c3c3c" stroke="#3c3c3c" stroke-width="0.12" style="mix-blend-mode:multiply">V0023507</text><text transform="translate(653.91 418.2) rotate(-90)" font-size="6.6" fill="#3c3c3c" stroke="#3c3c3c" stroke-width="0.12" style="mix-blend-mode:multiply">V0086231</text><text transform="translate(665.79 418.2) rotate(-90)" font-size="6.6" fill="#3c3c3c" stroke="#3c3c3c" stroke-width="0.12" style="mix-blend-mode:multiply">V0084868</text><text transform="translate(677.68 418.2) rotate(-90)" font-size="6.6" fill="#3c3c3c" stroke="#3c3c3c" stroke-width="0.12" style="mix-blend-mode:multiply">V0093743</text><text transform="translate(689.56 418.2) rotate(-90)" font-size="6.6" fill="#3c3c3c" stroke="#3c3c3c" stroke-width="0.12" style="mix-blend-mode:multiply">V0034624</text><text transform="translate(701.45 418.2) rotate(-90)" font-size="6.6" fill="#3c3c3c" stroke="#3c3c3c" stroke-width="0.12" style="mix-blend-mode:multiply">N0054083</text><text transform="translate(713.33 418.2) rotate(-90)" font-size="6.6" fill="#3c3c3c" stroke="#3c3c3c" stroke-width="0.12" style="mix-blend-mode:multiply">V0022770</text><text transform="translate(725.22 418.2) rotate(-90)" font-size="6.6" fill="#3c3c3c" stroke="#3c3c3c" stroke-width="0.12" style="mix-blend-mode:multiply">V0081793</text><text transform="translate(737.10 418.2) rotate(-90)" font-size="6.6" fill="#3c3c3c" stroke="#3c3c3c" stroke-width="0.12" style="mix-blend-mode:multiply">V0018229</text><text transform="translate(748.99 418.2) rotate(-90)" font-size="6.6" fill="#3c3c3c" stroke="#3c3c3c" stroke-width="0.12" style="mix-blend-mode:multiply">V0083972</text><text transform="translate(760.87 418.2) rotate(-90)" font-size="6.6" fill="#3c3c3c" stroke="#3c3c3c" stroke-width="0.12" style="mix-blend-mode:multiply">N0054563</text><text transform="translate(772.76 418.2) rotate(-90)" font-size="6.6" fill="#3c3c3c" stroke="#3c3c3c" stroke-width="0.12" style="mix-blend-mode:multiply">V0091134</text><text transform="translate(784.64 418.2) rotate(-90)" font-size="6.6" fill="#3c3c3c" stroke="#3c3c3c" stroke-width="0.12" style="mix-blend-mode:multiply">V0036995</text><text transform="translate(796.53 418.2) rotate(-90)" font-size="6.6" fill="#3c3c3c" stroke="#3c3c3c" stroke-width="0.12" style="mix-blend-mode:multiply">V0075066</text><path d="M63 420.8 H794" stroke="#7a4a3a" stroke-width="0.9"/><path d="M63.70 420.8 v3" stroke="#4d4d4d" stroke-width="0.8"/><path d="M75.59 420.8 v3" stroke="#4d4d4d" stroke-width="0.8"/><path d="M87.47 420.8 v3" stroke="#4d4d4d" stroke-width="0.8"/><path d="M99.36 420.8 v3" stroke="#4d4d4d" stroke-width="0.8"/><path d="M111.24 420.8 v3" stroke="#4d4d4d" stroke-width="0.8"/><path d="M123.12 420.8 v3" stroke="#4d4d4d" stroke-width="0.8"/><path d="M135.01 420.8 v3" stroke="#4d4d4d" stroke-width="0.8"/><path d="M146.90 420.8 v3" stroke="#4d4d4d" stroke-width="0.8"/><path d="M158.78 420.8 v3" stroke="#4d4d4d" stroke-width="0.8"/><path d="M170.66 420.8 v3" stroke="#4d4d4d" stroke-width="0.8"/><path d="M182.55 420.8 v3" stroke="#4d4d4d" stroke-width="0.8"/><path d="M194.43 420.8 v3" stroke="#4d4d4d" stroke-width="0.8"/><path d="M206.32 420.8 v3" stroke="#4d4d4d" stroke-width="0.8"/><path d="M218.21 420.8 v3" stroke="#4d4d4d" stroke-width="0.8"/><path d="M230.09 420.8 v3" stroke="#4d4d4d" stroke-width="0.8"/><path d="M241.97 420.8 v3" stroke="#4d4d4d" stroke-width="0.8"/><path d="M253.86 420.8 v3" stroke="#4d4d4d" stroke-width="0.8"/><path d="M265.74 420.8 v3" stroke="#4d4d4d" stroke-width="0.8"/><path d="M277.63 420.8 v3" stroke="#4d4d4d" stroke-width="0.8"/><path d="M289.51 420.8 v3" stroke="#4d4d4d" stroke-width="0.8"/><path d="M301.40 420.8 v3" stroke="#4d4d4d" stroke-width="0.8"/><path d="M313.28 420.8 v3" stroke="#4d4d4d" stroke-width="0.8"/><path d="M325.17 420.8 v3" stroke="#4d4d4d" stroke-width="0.8"/><path d="M337.06 420.8 v3" stroke="#4d4d4d" stroke-width="0.8"/><path d="M348.94 420.8 v3" stroke="#4d4d4d" stroke-width="0.8"/><path d="M360.82 420.8 v3" stroke="#4d4d4d" stroke-width="0.8"/><path d="M372.71 420.8 v3" stroke="#4d4d4d" stroke-width="0.8"/><path d="M384.59 420.8 v3" stroke="#4d4d4d" stroke-width="0.8"/><path d="M396.48 420.8 v3" stroke="#4d4d4d" stroke-width="0.8"/><path d="M408.37 420.8 v3" stroke="#4d4d4d" stroke-width="0.8"/><path d="M420.25 420.8 v3" stroke="#4d4d4d" stroke-width="0.8"/><path d="M432.13 420.8 v3" stroke="#4d4d4d" stroke-width="0.8"/><path d="M444.02 420.8 v3" stroke="#4d4d4d" stroke-width="0.8"/><path d="M455.90 420.8 v3" stroke="#4d4d4d" stroke-width="0.8"/><path d="M467.79 420.8 v3" stroke="#4d4d4d" stroke-width="0.8"/><path d="M479.67 420.8 v3" stroke="#4d4d4d" stroke-width="0.8"/><path d="M491.56 420.8 v3" stroke="#4d4d4d" stroke-width="0.8"/><path d="M503.44 420.8 v3" stroke="#4d4d4d" stroke-width="0.8"/><path d="M515.33 420.8 v3" stroke="#4d4d4d" stroke-width="0.8"/><path d="M527.21 420.8 v3" stroke="#4d4d4d" stroke-width="0.8"/><path d="M539.10 420.8 v3" stroke="#4d4d4d" stroke-width="0.8"/><path d="M550.98 420.8 v3" stroke="#4d4d4d" stroke-width="0.8"/><path d="M562.87 420.8 v3" stroke="#4d4d4d" stroke-width="0.8"/><path d="M574.75 420.8 v3" stroke="#4d4d4d" stroke-width="0.8"/><path d="M586.64 420.8 v3" stroke="#4d4d4d" stroke-width="0.8"/><path d="M598.52 420.8 v3" stroke="#4d4d4d" stroke-width="0.8"/><path d="M610.41 420.8 v3" stroke="#4d4d4d" stroke-width="0.8"/><path d="M622.29 420.8 v3" stroke="#4d4d4d" stroke-width="0.8"/><path d="M634.18 420.8 v3" stroke="#4d4d4d" stroke-width="0.8"/><path d="M646.06 420.8 v3" stroke="#4d4d4d" stroke-width="0.8"/><path d="M657.95 420.8 v3" stroke="#4d4d4d" stroke-width="0.8"/><path d="M669.83 420.8 v3" stroke="#4d4d4d" stroke-width="0.8"/><path d="M681.72 420.8 v3" stroke="#4d4d4d" stroke-width="0.8"/><path d="M693.60 420.8 v3" stroke="#4d4d4d" stroke-width="0.8"/><path d="M705.49 420.8 v3" stroke="#4d4d4d" stroke-width="0.8"/><path d="M717.37 420.8 v3" stroke="#4d4d4d" stroke-width="0.8"/><path d="M729.26 420.8 v3" stroke="#4d4d4d" stroke-width="0.8"/><path d="M741.14 420.8 v3" stroke="#4d4d4d" stroke-width="0.8"/><path d="M753.03 420.8 v3" stroke="#4d4d4d" stroke-width="0.8"/><path d="M764.91 420.8 v3" stroke="#4d4d4d" stroke-width="0.8"/><path d="M776.80 420.8 v3" stroke="#4d4d4d" stroke-width="0.8"/><path d="M788.68 420.8 v3" stroke="#4d4d4d" stroke-width="0.8"/><path d="M800.57 420.8 v3" stroke="#4d4d4d" stroke-width="0.8"/><path d="M61.5 304.8 H63.6 V424" fill="none" stroke="#4d4d4d" stroke-width="0.8"/></g><rect x="64.2" y="427.6" width="6.8" height="6.8" fill="#3f7cc0"/><text x="73.3" y="433.6" font-size="6.3" fill="#393939" textLength="37.9" lengthAdjust="spacing">#Order Item</text><rect x="117.6" y="427.6" width="6.8" height="6.8" fill="#e0633e"/><text x="126.6" y="433.6" font-size="6.3" fill="#393939" textLength="44" lengthAdjust="spacing">AVG LeadTime</text><rect x="58.4" y="437.3" width="735.4" height="6.6" fill="#f1f1f1"/><rect x="60.4" y="438" width="441.6" height="5.2" rx="2.6" fill="#bdbdbd"/><rect x="60.6" y="448.8" width="5.6" height="6.4" rx="1" fill="none" stroke="#6f6f6f" stroke-width="0.8"/><path d="M62 452 h2.8" stroke="#6f6f6f" stroke-width="0.8"/><text x="70.8" y="455.8" font-size="5.6" fill="#6f6f6f" textLength="26.8" lengthAdjust="spacing">100 / 131</text><rect x="101.6" y="448.8" width="6" height="6.4" rx="1" fill="none" stroke="#6f6f6f" stroke-width="0.8"/><path d="M103 452 h3.2 M104.6 450.4 v3.2" stroke="#6f6f6f" stroke-width="0.8"/><rect x="783.5" y="453.2" width="6" height="1.1" fill="#8d8d8d"/><text x="694" y="292.6" font-size="6.3" fill="#a8a8a8">#Order Item &#9662;</text><g stroke="#8d8d8d" stroke-width="0.8" fill="none"><path d="M751.4 287 v7 M754.6 287 v7 M749.8 292.4 l1.6 1.8 l1.6 -1.8 M753 288.8 l1.6 -1.8 l1.6 1.8"/></g><rect x="762.4" y="286.6" width="13.6" height="7.6" fill="#d4d4d4"/><path d="M763.5 288.6 h11.4 M763.5 290.4 h11.4 M763.5 292.2 h11.4" stroke="#8d8d8d" stroke-width="0.8"/><path d="M783 287.4 h7.2 l-2.8 3.2 v3.8 l-1.6 -1 v-2.8 z" fill="#525252"/><path d="M540.2 364.2 v10.6 l2.5 -2.3 l1.9 4.1 l1.7 -0.8 l-1.9 -4 h3.4 z" fill="#111" stroke="#fff" stroke-width="0.5"/></svg><div class="card" style="left:8.2px;top:411.5px;width:735.6px;height:30px;box-shadow:0 0 0 0.6px #e3e3e3"></div><svg width="756" height="424.5" viewBox="50 53 756 424.5" font-family="Liberation Sans, sans-serif"><g stroke="#8d8d8d" stroke-width="0.9" fill="#8d8d8d"><path d="M62.6 474.2 l5 -5"/><path d="M68.2 468.6 h-2.6 l2.6 2.6 z" stroke="none"/><path d="M62 474.8 h2.6 l-2.6 -2.6 z" stroke="none"/></g><text x="72" y="473.6" font-size="5" fill="#c6c6c6">(10 6c)</text><text x="725.5" y="474.4" font-size="7" fill="#c6c6c6">Search</text><circle cx="761.2" cy="470.4" r="2.6" fill="none" stroke="#c6c6c6" stroke-width="0.8"/><path d="M763 472.4 l2.2 2.4" stroke="#c6c6c6" stroke-width="0.8"/><rect x="773" y="466.8" width="21.6" height="10" rx="5" fill="#8d8d8d"/><text x="783.8" y="474.6" font-size="6.4" fill="#e0e0e0" text-anchor="middle" font-weight="bold">141</text></svg></div></div>
<svg width="1584" height="891" viewBox="0 0 1584 891"><rect x="1126.7" y="53.6" width="56.7" height="56.4" fill="#3d803e" stroke="#2f7535" stroke-width="0.8"/><path d="M1142.6 67.2 L1167.8 81.7 L1142.6 96.4 Z" fill="#fdfefd" stroke="#fdfefd" stroke-width="1.2" stroke-linejoin="round"/><path d="M1156 110.2 V143.7" stroke="#b4b6bb" stroke-width="2"/><path d="M1149.4 141.1 H1162.6 L1156 155.1 Z" fill="#8e9095"/><path d="M1156 184.1 V217.4" stroke="#b4b6bb" stroke-width="2"/><path d="M1149.4 214.8 H1162.6 L1156 228.8 Z" fill="#8e9095"/><path d="M1156 257.8 V291.0" stroke="#b4b6bb" stroke-width="2"/><path d="M1149.4 288.4 H1162.6 L1156 302.4 Z" fill="#8e9095"/><path d="M1156 331.4 V364.9" stroke="#b4b6bb" stroke-width="2"/><path d="M1149.4 362.3 H1162.6 L1156 376.3 Z" fill="#8e9095"/><path d="M1156 405.3 V438.6" stroke="#b4b6bb" stroke-width="2"/><path d="M1149.4 436.0 H1162.6 L1156 450.0 Z" fill="#8e9095"/><rect x="987.2" y="156.00" width="333.3" height="27.80" fill="#3d803e" stroke="#33793a" stroke-width="0.6"/><rect x="970.2" y="167.60" width="33.3" height="5.9" fill="#e980ad"/><rect x="987.2" y="229.70" width="333.3" height="27.80" fill="#3d803e" stroke="#33793a" stroke-width="0.6"/><rect x="970.2" y="241.30" width="33.3" height="5.9" fill="#e980ad"/><rect x="987.2" y="303.30" width="333.3" height="27.80" fill="#3d803e" stroke="#33793a" stroke-width="0.6"/><rect x="970.2" y="314.90" width="33.3" height="5.9" fill="#e980ad"/><rect x="987.2" y="377.20" width="333.3" height="27.80" fill="#3d803e" stroke="#33793a" stroke-width="0.6"/><rect x="970.2" y="388.80" width="33.3" height="5.9" fill="#e980ad"/><rect x="987.2" y="450.90" width="333.3" height="27.80" fill="#3d803e" stroke="#33793a" stroke-width="0.6"/><rect x="970.2" y="462.50" width="33.3" height="5.9" fill="#e980ad"/></svg><div class="t" style="left:1019.4px;top:171.2px;font-size:17.00px;color:#e4f3dd;font-weight:normal;height:20.40px;line-height:20.40px;margin-top:-10.20px;letter-spacing:-0.257px;-webkit-text-stroke:0.3px #e4f3dd;">Order Item Created Oms</div>
<div class="t" style="left:1019.4px;top:244.9px;font-size:17.00px;color:#e4f3dd;font-weight:normal;height:20.40px;line-height:20.40px;margin-top:-10.20px;letter-spacing:-0.165px;-webkit-text-stroke:0.3px #e4f3dd;">Order Item Approved Oms</div>
<div class="t" style="left:1019.4px;top:318.5px;font-size:17.00px;color:#e4f3dd;font-weight:normal;height:20.40px;line-height:20.40px;margin-top:-10.20px;letter-spacing:-0.405px;-webkit-text-stroke:0.3px #e4f3dd;">Service Entry Sheet Registered Oms</div>
<div class="t" style="left:1019.4px;top:392.4px;font-size:17.00px;color:#e4f3dd;font-weight:normal;height:20.40px;line-height:20.40px;margin-top:-10.20px;letter-spacing:-0.463px;-webkit-text-stroke:0.3px #e4f3dd;">Service Entry Sheet Released Oms</div>
<div class="t" style="left:1019.4px;top:466.1px;font-size:17.00px;color:#e4f3dd;font-weight:normal;height:20.40px;line-height:20.40px;margin-top:-10.20px;letter-spacing:-0.323px;-webkit-text-stroke:0.3px #e4f3dd;">Invoice Cleared Oms</div>
<div class="t" style="left:1095.5px;top:133.2px;font-size:13.60px;color:#20232b;font-weight:normal;height:16.32px;line-height:16.32px;margin-top:-8.16px;letter-spacing:-0.562px;-webkit-text-stroke:0.25px #20232b;">0ms</div>
<div class="t" style="left:1077.8px;top:207.2px;font-size:13.60px;color:#20232b;font-weight:normal;height:16.32px;line-height:16.32px;margin-top:-8.16px;letter-spacing:-0.454px;-webkit-text-stroke:0.25px #20232b;">14h 20min</div>
<div class="t" style="left:1084.6px;top:280.7px;font-size:13.60px;color:#20232b;font-weight:normal;height:16.32px;line-height:16.32px;margin-top:-8.16px;letter-spacing:-0.477px;-webkit-text-stroke:0.25px #20232b;">90d 15h</div>
<div class="t" style="left:1087.8px;top:354.6px;font-size:13.60px;color:#20232b;font-weight:normal;height:16.32px;line-height:16.32px;margin-top:-8.16px;letter-spacing:-0.363px;-webkit-text-stroke:0.25px #20232b;">1d 16h</div>
<div class="t" style="left:1084.6px;top:428.4px;font-size:13.60px;color:#20232b;font-weight:normal;height:16.32px;line-height:16.32px;margin-top:-8.16px;letter-spacing:-0.477px;-webkit-text-stroke:0.25px #20232b;">28d 14h</div>

<div class="panel" style="left:1465.8px;top:55.5px;width:116.6px;height:419.9px;background:#f4f5f6;overflow:visible;box-shadow:0 0 8px 2px rgba(255,255,255,0.5),0 -3.5px 1.5px -1px rgba(0,0,0,0.045)"><div class="abs soft" style="left:0;top:0;width:116.6px;height:419.9px;overflow:hidden"><div class="hdr" style="height:26.9px"><svg width="116.6" height="27" viewBox="0 0 116.6 27"><rect x="5.4" y="9.60" width="9.2" height="1.2" fill="#b8b8b8"/><rect x="5.4" y="11.95" width="9.2" height="1.2" fill="#b8b8b8"/><rect x="5.4" y="14.30" width="9.2" height="1.2" fill="#b8b8b8"/><rect x="5.4" y="16.65" width="9.2" height="1.2" fill="#b8b8b8"/></svg><div class="t" style="left:27.3px;top:13.8px;font-size:8.20px;color:#f4f4f4;font-weight:normal;height:9.84px;line-height:9.84px;margin-top:-4.92px;letter-spacing:-0.066px;"><span style="font-weight:normal;color:#c6c6c6">IBM</span> <b>Automation</b></div>
</div><div class="abs" style="left:0;top:26.9px;width:116.6px;height:21.9px;background:#fff;box-shadow:0 1px 2px rgba(0,0,0,0.08)"></div><div class="t" style="left:13.7px;top:39.7px;font-size:7.60px;color:#757575;font-weight:normal;height:9.12px;line-height:9.12px;margin-top:-4.56px;letter-spacing:0.383px;">Model</div>
<div class="t" style="left:74.2px;top:39.7px;font-size:7.60px;color:#757575;font-weight:normal;height:9.12px;line-height:9.12px;margin-top:-4.56px;letter-spacing:0.162px;">BPMN</div>
<div class="card" style="left:5.2px;top:51.5px;width:120px;height:58px"></div><div class="t" style="left:14.2px;top:65.3px;font-size:6.90px;color:#6a6a6a;font-weight:normal;height:8.28px;line-height:8.28px;margin-top:-4.14px;letter-spacing:0.22px">Target activity automation level</div>
<div class="t" style="left:14.4px;top:84.3px;font-size:6.40px;color:#525252;font-weight:bold;height:7.68px;line-height:7.68px;margin-top:-3.84px;">0</div>
<div class="abs" style="left:23.8px;top:83.1px;width:120px;height:2px;background:#757575"></div><div class="card" style="left:5.2px;top:115.5px;width:120px;height:292.0px"></div><div class="t" style="left:13.8px;top:132.7px;font-size:7.40px;color:#161616;font-weight:bold;height:8.88px;line-height:8.88px;margin-top:-4.44px;letter-spacing:0.253px;">RPA candidates</div>
<div class="t" style="left:35.2px;top:160.8px;font-size:5.90px;color:#7c7c7c;font-weight:normal;height:7.08px;line-height:7.08px;margin-top:-3.54px;letter-spacing:0.12px">Evaluating Request (WITH re-submission)</div>
<div class="t" style="left:33.2px;top:179.7px;font-size:5.90px;color:#7c7c7c;font-weight:normal;height:7.08px;line-height:7.08px;margin-top:-3.54px;letter-spacing:0.12px">Pending Request for Reservation</div>
<div class="t" style="left:31.8px;top:199.1px;font-size:5.90px;color:#7c7c7c;font-weight:normal;height:7.08px;line-height:7.08px;margin-top:-3.54px;letter-spacing:0.12px">Evaluating Request (NO registration)</div>
<div class="t" style="left:33.2px;top:218.8px;font-size:5.90px;color:#7c7c7c;font-weight:normal;height:7.08px;line-height:7.08px;margin-top:-3.54px;letter-spacing:0.12px">Request completed with account closure</div>
<div class="t" style="left:93.2px;top:237.8px;font-size:5.90px;color:#7c7c7c;font-weight:normal;height:7.08px;line-height:7.08px;margin-top:-3.54px;letter-spacing:0.12px">BO Service Closure</div>
<div class="t" style="left:57.2px;top:257.5px;font-size:5.90px;color:#7c7c7c;font-weight:normal;height:7.08px;line-height:7.08px;margin-top:-3.54px;letter-spacing:0.12px">Network Adjustment</div>
<div class="t" style="left:100.5px;top:275.7px;font-size:5.90px;color:#7c7c7c;font-weight:normal;height:7.08px;line-height:7.08px;margin-top:-3.54px;letter-spacing:0.12px">Request created</div>
<div class="t" style="left:100.5px;top:294.9px;font-size:5.90px;color:#7c7c7c;font-weight:normal;height:7.08px;line-height:7.08px;margin-top:-3.54px;letter-spacing:0.12px">Request rejected</div>
<div class="t" style="left:77.2px;top:314.3px;font-size:5.90px;color:#7c7c7c;font-weight:normal;height:7.08px;line-height:7.08px;margin-top:-3.54px;letter-spacing:0.12px">Authorization Requested</div>
<div class="t" style="left:51.5px;top:333.7px;font-size:5.90px;color:#7c7c7c;font-weight:normal;height:7.08px;line-height:7.08px;margin-top:-3.54px;letter-spacing:0.12px">Back-office adjustment requested</div>
<div class="t" style="left:31.8px;top:352.9px;font-size:5.90px;color:#7c7c7c;font-weight:normal;height:7.08px;line-height:7.08px;margin-top:-3.54px;letter-spacing:0.12px">Pending Request for Network Information</div>
<div class="t" style="left:15.0px;top:281.1px;font-size:6.7px;letter-spacing:0.15px;font-weight:bold;color:#262626;transform:rotate(-90deg);transform-origin:0 0;height:7px;line-height:7px">RPA candidates</div></div></div>
<svg width="1584" height="891" viewBox="0 0 1584 891"><g fill="none" stroke="#a9abb0" stroke-width="1.5"><path d="M297.6 700.4 Q232 716 186.0 741.0"/><path d="M252.1 745.9 Q305 719 360.5 704.8"/><path d="M436.4 700.4 Q466 716 483 738"/><path d="M487.7 774 V806"/><path d="M487.7 847.6 V882"/></g><g fill="#8e9095"><path d="M177.0 745.7 L184.6 735.0 L190.6 745.2 Z"/><path d="M370.7 700.8 L358.0 701.6 L360.0 710.2 Z"/><path d="M489.6 745.6 L476.6 738.6 L487.6 732.6 Z"/><path d="M481.2 804.8 H494.4 L487.8 818.8 Z"/><path d="M481.2 880.6 H494.4 L487.8 894.6 Z"/></g><rect x="238.7" y="671.9" width="240.1" height="28.5" fill="#80aaf7"/><rect x="56.4" y="745.9" width="240.2" height="28.2" fill="#acc8f8"/><rect x="370.0" y="745.9" width="240.1" height="28.2" fill="#acc8f8"/><rect x="370.0" y="819.6" width="240.1" height="28.0" fill="#acc8f8"/></svg><div class="t" style="left:255.4px;top:687.5px;font-size:17.00px;color:#0d1f4a;font-weight:normal;height:20.40px;line-height:20.40px;margin-top:-10.20px;letter-spacing:-0.477px;-webkit-text-stroke:0.3px #0d1f4a;">Create Request</div>
<div class="t" style="left:72.8px;top:761.4px;font-size:17.00px;color:#0d1f4a;font-weight:normal;height:20.40px;line-height:20.40px;margin-top:-10.20px;letter-spacing:-0.339px;-webkit-text-stroke:0.3px #0d1f4a;">Amend Request</div>
<div class="t" style="left:386.6px;top:761.4px;font-size:17.00px;color:#0d1f4a;font-weight:normal;height:20.40px;line-height:20.40px;margin-top:-10.20px;letter-spacing:-0.455px;-webkit-text-stroke:0.3px #0d1f4a;">Analyze Request</div>
<div class="t" style="left:386.6px;top:835.0px;font-size:17.00px;color:#0d1f4a;font-weight:normal;height:20.40px;line-height:20.40px;margin-top:-10.20px;letter-spacing:-0.521px;-webkit-text-stroke:0.3px #0d1f4a;">Send Request</div>

<div class="panel" style="left:805.9px;top:667.6px;width:756.4px;height:240px;background:#f5f5f5;overflow:visible;box-shadow:0 0 10px 2px rgba(255,255,255,0.5)"><div class="abs soft" style="left:0;top:0;width:756.4px;height:240px;overflow:hidden"><div class="hdr" style="height:27.3px"><svg width="756.4" height="27.3" viewBox="0 0 756.4 27.3"><rect x="9.5" y="9.75" width="9.2" height="1.2" fill="#b8b8b8"/><rect x="9.5" y="12.10" width="9.2" height="1.2" fill="#b8b8b8"/><rect x="9.5" y="14.45" width="9.2" height="1.2" fill="#b8b8b8"/><rect x="9.5" y="16.80" width="9.2" height="1.2" fill="#b8b8b8"/><g fill="#a8a8a8" stroke="none"><rect x="686.55" y="8.05" width="1.3" height="10.5"/><path d="M687.60 9.05 h4.2 l1.5 1.5 l-1.5 1.5 h-4.2 z"/><path d="M686.80 11.65 h-3.6 l-1.5 1.4 l1.5 1.4 h3.6 z"/></g><circle cx="715.3" cy="13.5" r="5.9" fill="#1d1a4a"/><path d="M710.1 13.2 c0.5 -3.4 3.2 -5.2 6 -4.6 c-2 0.6 -3 1.8 -3.4 3.4 c-0.8 0.2 -1.8 0.6 -2.6 1.2 z" fill="#f1eafc"/><path d="M716.7 10.1 c1.6 -0.6 3.2 0.2 3.6 2.2 c0.2 1.4 -0.6 2 -1.6 1.6 c-0.2 -1.6 -1 -2.8 -2 -3.8 z" fill="#ffffff"/><path d="M711.5 15.9 c1.2 -1.6 2.6 -2.4 4.2 -2.2 c-0.6 1.4 -0.4 2.8 0.6 4 c-1.6 1 -3.4 0.8 -4.8 -1.8 z" fill="#efe6ff"/><path d="M714.9 17.2 l2.6 1.8" stroke="#c94f9a" stroke-width="0.9"/><rect x="737.80" y="9.45" width="2.3" height="2.1" fill="#d6d6d6"/><rect x="741.35" y="9.45" width="2.3" height="2.1" fill="#d6d6d6"/><rect x="744.90" y="9.45" width="2.3" height="2.1" fill="#d6d6d6"/><rect x="737.80" y="12.65" width="2.3" height="2.1" fill="#d6d6d6"/><rect x="741.35" y="12.65" width="2.3" height="2.1" fill="#d6d6d6"/><rect x="744.90" y="12.65" width="2.3" height="2.1" fill="#d6d6d6"/><rect x="737.80" y="15.85" width="2.3" height="2.1" fill="#d6d6d6"/><rect x="741.35" y="15.85" width="2.3" height="2.1" fill="#d6d6d6"/><rect x="744.90" y="15.85" width="2.3" height="2.1" fill="#d6d6d6"/></svg><div class="t" style="left:32.7px;top:14.0px;font-size:8.40px;color:#f4f4f4;font-weight:normal;height:10.08px;line-height:10.08px;margin-top:-5.04px;letter-spacing:-0.125px;"><span style="font-weight:normal;color:#c6c6c6">IBM</span> <b>Automation</b></div>
</div><div class="abs" style="left:0;top:27.3px;width:756.4px;height:23.2px;background:#fff;box-shadow:0 1px 2px rgba(0,0,0,0.07)"></div><div class="t" style="left:18.9px;top:40.2px;font-size:7.60px;color:#787878;font-weight:normal;height:9.12px;line-height:9.12px;margin-top:-4.56px;letter-spacing:0.503px;">Model</div>
<div class="t" style="left:80.1px;top:40.2px;font-size:7.60px;color:#787878;font-weight:normal;height:9.12px;line-height:9.12px;margin-top:-4.56px;letter-spacing:0.137px;">BPMN</div>
<div class="t" style="left:141.1px;top:40.2px;font-size:7.60px;color:#787878;font-weight:normal;height:9.12px;line-height:9.12px;margin-top:-4.56px;letter-spacing:0.361px;">Statistics</div>
<div class="t" style="left:213.5px;top:40.2px;font-size:7.60px;color:#161616;font-weight:bold;height:9.12px;line-height:9.12px;margin-top:-4.56px;letter-spacing:0.240px;">Compare</div>
<div class="t" style="left:285.1px;top:40.2px;font-size:7.60px;color:#787878;font-weight:normal;height:9.12px;line-height:9.12px;margin-top:-4.56px;letter-spacing:0.436px;">Automate</div>
<div class="t" style="left:359.7px;top:40.2px;font-size:7.60px;color:#787878;font-weight:normal;height:9.12px;line-height:9.12px;margin-top:-4.56px;letter-spacing:0.324px;">Manage</div>
<div class="abs" style="left:204.6px;top:49.2px;width:70.5px;height:1.6px;background:#4a86c8"></div><div class="abs" style="left:676.8px;top:33.4px;width:59.3px;height:11.6px;border-radius:6px;background:#d0e2ff"></div><div class="t" style="left:681.5px;top:39.3px;font-size:6.40px;color:#3a6fd0;font-weight:normal;height:7.68px;line-height:7.68px;margin-top:-3.84px;letter-spacing:0.413px;">3 filters applied</div>
<div class="t" style="left:18.9px;top:72.7px;font-size:11.60px;color:#2e2e2e;font-weight:normal;height:13.92px;line-height:13.92px;margin-top:-6.96px;letter-spacing:-0.037px;-webkit-text-stroke:0.15px #2e2e2e;">Case duration and count</div>
<div class="card" style="left:9.3px;top:89.6px;width:737.5px;height:140px"></div><div class="abs" style="left:9.3px;top:117.4px;width:737.5px;height:1px;background:#eeeeee"></div><div class="t" style="left:18.9px;top:103.2px;font-size:6.80px;color:#8d8d8d;font-weight:normal;height:8.16px;line-height:8.16px;margin-top:-4.08px;letter-spacing:0.257px;">By:</div>
<div class="t" style="left:40.1px;top:103.2px;font-size:6.80px;color:#262626;font-weight:normal;height:8.16px;line-height:8.16px;margin-top:-4.08px;letter-spacing:0.771px;">Average</div>
<svg width="756.4" height="240" viewBox="805.9 667.6 756.4 240" font-family="Liberation Sans, sans-serif"><path d="M884 769.6 l2.8 2.8 l2.8 -2.8" fill="none" stroke="#525252" stroke-width="0.9"/><rect x="824.6" y="822.9" width="627.1" height="42.1" fill="#fafcfe"/><path d="M824.6 855.2 L840.5 851.4 L849.3 851.4 L864.5 844.3 L879.6 843.8 L898.6 836.8 L921.3 835.0 L939.0 829.2 L956.7 829.2 L979.4 833.2 L994.5 829.2 L1009.7 829.2 L1032.4 835.3 L1052.6 833.0 L1082.9 833.2 L1105.7 838.3 L1125.9 840.3 L1146.1 840.3 L1163.7 836.3 L1178.9 836.8 L1184.0 838.8 L1209.3 842.3 L1234.5 842.3 L1259.8 840.3 L1290.1 835.3 L1315.3 840.1 L1345.6 841.8 L1368.3 840.3 L1393.6 840.6 L1426.4 842.3 L1439.1 844.3 L1451.2 845.6 L1451.7 865.0 L824.6 865.0 Z" fill="#e7f0f9" fill-opacity="0.9"/><polyline points="824.6,855.2 840.5,851.4 849.3,851.4 864.5,844.3 879.6,843.8 898.6,836.8 921.3,835.0 939.0,829.2 956.7,829.2 979.4,833.2 994.5,829.2 1009.7,829.2 1032.4,835.3 1052.6,833.0 1082.9,833.2 1105.7,838.3 1125.9,840.3 1146.1,840.3 1163.7,836.3 1178.9,836.8 1184.0,838.8 1209.3,842.3 1234.5,842.3 1259.8,840.3 1290.1,835.3 1315.3,840.1 1345.6,841.8 1368.3,840.3 1393.6,840.6 1426.4,842.3 1439.1,844.3 1451.2,845.6" fill="none" stroke="#66a4c9" stroke-width="1.6" stroke-linejoin="round"/><polyline points="824.6,829.2 835.5,829.2 843.0,832.2 863.2,831.0 873.3,833.7 898.6,836.8 921.3,835.0 931.4,834.2 949.1,841.3 966.8,838.0 979.4,838.3 994.5,840.3 1014.7,836.8 1032.4,839.8 1052.6,836.8 1067.8,836.8 1088.0,840.6 1110.7,843.8 1128.4,842.3 1143.5,837.5 1161.2,835.5 1178.9,837.3 1184.0,838.0 1201.7,846.9 1221.9,847.4 1234.5,849.9 1252.2,851.9 1269.9,848.1 1300.2,844.3 1315.3,846.1 1340.6,847.1 1363.3,844.1 1375.9,845.6 1392.3,849.9 1398.6,846.1 1413.8,845.6 1426.4,847.1 1439.1,844.3 1451.2,841.3" fill="none" stroke="#6250a6" stroke-width="1.6" stroke-linejoin="round"/><path d="M1035 791.5 V900" stroke="#7a7a7a" stroke-width="1.1" stroke-dasharray="3.8 3"/><rect x="1040.6" y="791.6" width="11.2" height="11.6" rx="5" fill="#c6e4f5"/><text x="1046.2" y="799.4" font-size="5.4" fill="#4a86c8" text-anchor="middle">A</text><rect x="1040.6" y="806.8" width="11.2" height="11.6" rx="5" fill="#ddd2f4"/><text x="1046.2" y="814.6" font-size="5.4" fill="#7a5bc0" text-anchor="middle">B</text><text x="1058" y="799.6" font-size="5.9" fill="#525252" textLength="86" lengthAdjust="spacing">42 days 2 hours (3,347 cases)</text><text x="1058" y="814.6" font-size="5.9" fill="#525252" textLength="86" lengthAdjust="spacing">47 days 8 hours (2,369 cases)</text><path d="M1034.6 845.2 c-1.2 -1.6 0.6 -2.8 1.8 -1.4 l0.8 0.9 c0.4 -0.9 1.7 -0.9 2.2 0 c0.9 0.2 1.4 0.9 1.4 2 v2.6 c0 1.7 -1 2.7 -2.6 2.7 h-1 c-1.3 0 -2.2 -0.7 -2.8 -2 z" fill="#f4f4f4" stroke="#525252" stroke-width="0.8"/><text x="890.0" y="874.8" font-size="6.3" fill="#a8a8a8" text-anchor="middle" textLength="38" lengthAdjust="spacing">Feb-01, 2011</text><text x="994.0" y="874.8" font-size="6.3" fill="#a8a8a8" text-anchor="middle" textLength="38" lengthAdjust="spacing">Mar-01, 2011</text><text x="1097.3" y="874.8" font-size="6.3" fill="#a8a8a8" text-anchor="middle" textLength="38" lengthAdjust="spacing">Apr-01, 2011</text><text x="1201.7" y="874.8" font-size="6.3" fill="#a8a8a8" text-anchor="middle" textLength="38" lengthAdjust="spacing">May-01, 2011</text><text x="1304.5" y="874.8" font-size="6.3" fill="#a8a8a8" text-anchor="middle" textLength="38" lengthAdjust="spacing">Jun-01, 2011</text><text x="1406.0" y="874.8" font-size="6.3" fill="#a8a8a8" text-anchor="middle" textLength="38" lengthAdjust="spacing">Jul-01, 2011</text><text x="1039.8" y="892" font-size="6.2" fill="#6f6f6f" textLength="89.5" lengthAdjust="spacing">Time: March 11, 2011, 2:53 AM</text><rect x="1469.2" y="823.2" width="7.2" height="7.2" fill="#4b2ea6"/><text x="1481" y="829" font-size="5.9" fill="#a8a8a8" textLength="38" lengthAdjust="spacing">Case duration</text><rect x="1469.2" y="834.8" width="7.2" height="7.2" fill="#2f86d6"/><text x="1481" y="840.6" font-size="5.9" fill="#a8a8a8" textLength="31" lengthAdjust="spacing">Case count</text></svg></div></div>
<div class="abs" style="left:0;top:0;width:2.5px;height:891px;background:#f7f9fb"></div><div class="abs" style="left:1582.4px;top:0;width:1.6px;height:891px;background:#f7f9fb"></div>
</body></html>
